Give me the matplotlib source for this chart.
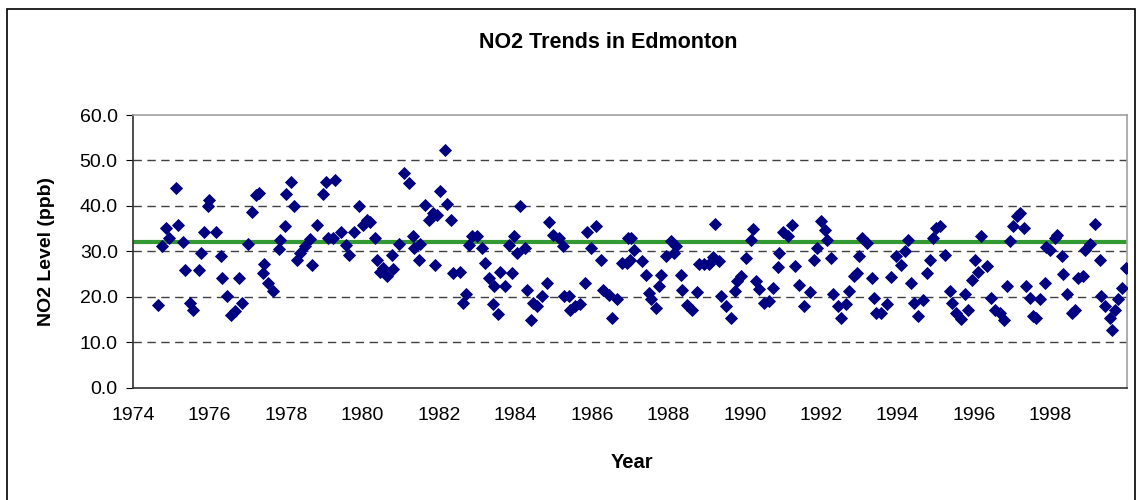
import matplotlib
matplotlib.use('Agg')
import matplotlib.pyplot as plt
from matplotlib.patches import Rectangle

plt.rcParams['font.family'] = ['Liberation Sans', 'DejaVu Sans']

# 数据：年份（小数）和 NO2 浓度 (ppb)
years = [
    1974.65, 1974.77, 1974.87, 1974.94, 1975.13, 1975.18, 1975.31, 1975.35, 1975.48, 1975.57,
    1975.72, 1975.77, 1975.86, 1975.96, 1975.99, 1976.16, 1976.29, 1976.34, 1976.46, 1976.57,
    1976.66, 1976.77, 1976.86, 1977.01, 1977.12, 1977.23, 1977.30, 1977.39, 1977.42, 1977.53,
    1977.66, 1977.81, 1977.84, 1977.97, 1978.01, 1978.13, 1978.22, 1978.28, 1978.36, 1978.49,
    1978.62, 1978.69, 1978.80, 1978.96, 1979.04, 1979.10, 1979.24, 1979.28, 1979.45, 1979.58,
    1979.65, 1979.79, 1979.91, 1980.02, 1980.11, 1980.20, 1980.33, 1980.37, 1980.47, 1980.55,
    1980.64, 1980.77, 1980.81, 1980.95, 1981.08, 1981.21, 1981.32, 1981.34, 1981.47, 1981.51,
    1981.64, 1981.73, 1981.86, 1981.89, 1981.95, 1982.04, 1982.15, 1982.21, 1982.32, 1982.37,
    1982.56, 1982.63, 1982.72, 1982.78, 1982.87, 1983.00, 1983.13, 1983.21, 1983.30, 1983.41,
    1983.43, 1983.56, 1983.61, 1983.74, 1983.83, 1983.91, 1983.97, 1984.04, 1984.13, 1984.26,
    1984.31, 1984.41, 1984.46, 1984.57, 1984.70, 1984.83, 1984.89, 1984.99, 1985.13, 1985.25,
    1985.28, 1985.40, 1985.44, 1985.57, 1985.70, 1985.81, 1985.88, 1985.98, 1986.12, 1986.23,
    1986.30, 1986.44, 1986.53, 1986.66, 1986.79, 1986.92, 1986.94, 1987.00, 1987.03, 1987.10,
    1987.32, 1987.41, 1987.50, 1987.54, 1987.67, 1987.76, 1987.80, 1987.93, 1988.06, 1988.15,
    1988.20, 1988.33, 1988.37, 1988.50, 1988.63, 1988.76, 1988.81, 1988.94, 1989.07, 1989.16,
    1989.22, 1989.33, 1989.37, 1989.50, 1989.63, 1989.74, 1989.81, 1989.90, 1990.03, 1990.16,
    1990.23, 1990.29, 1990.37, 1990.51, 1990.64, 1990.74, 1990.86, 1990.90, 1990.99, 1991.12,
    1991.25, 1991.32, 1991.42, 1991.55, 1991.71, 1991.82, 1991.89, 1991.99, 1992.10, 1992.15,
    1992.25, 1992.32, 1992.43, 1992.51, 1992.65, 1992.73, 1992.86, 1992.95, 1992.99, 1993.08,
    1993.21, 1993.34, 1993.39, 1993.43, 1993.57, 1993.71, 1993.84, 1993.97, 1994.10, 1994.19,
    1994.26, 1994.36, 1994.43, 1994.53, 1994.67, 1994.78, 1994.84, 1994.93, 1995.01, 1995.10,
    1995.23, 1995.36, 1995.42, 1995.54, 1995.65, 1995.76, 1995.84, 1995.95, 1996.02, 1996.09,
    1996.19, 1996.35, 1996.45, 1996.54, 1996.67, 1996.79, 1996.87, 1996.93, 1997.02, 1997.11,
    1997.20, 1997.31, 1997.35, 1997.46, 1997.55, 1997.63, 1997.72, 1997.85, 1997.89, 1997.99,
    1998.11, 1998.18, 1998.29, 1998.33, 1998.44, 1998.55, 1998.64, 1998.72, 1998.85, 1998.91,
    1999.03, 1999.16, 1999.29, 1999.33, 1999.42, 1999.55, 1999.60, 1999.68, 1999.77, 1999.86,
    1999.97,
]
no2 = [
    18.2, 31.1, 35.1, 32.9, 43.9, 35.8, 32.0, 25.8, 18.6, 17.1,
    25.8, 29.7, 34.2, 39.9, 41.3, 34.2, 28.9, 24.1, 20.2, 16.0,
    16.8, 24.1, 18.6, 31.7, 38.6, 42.4, 42.9, 25.3, 27.3, 23.1,
    21.2, 30.5, 32.5, 35.5, 42.6, 45.2, 39.9, 28.1, 29.6, 31.1,
    32.7, 27.0, 35.8, 42.6, 45.2, 32.9, 32.9, 45.6, 34.2, 31.4,
    29.2, 34.2, 39.9, 35.8, 37.0, 36.5, 32.9, 28.1, 25.4, 26.4,
    24.6, 29.2, 26.1, 31.7, 47.2, 45.0, 33.3, 30.7, 28.1, 31.7,
    40.3, 36.9, 38.4, 27.0, 38.0, 43.2, 52.2, 40.5, 36.9, 25.2,
    25.5, 18.6, 20.6, 31.4, 33.3, 33.3, 30.7, 27.5, 24.1, 18.5,
    22.3, 16.2, 25.5, 22.3, 31.4, 25.2, 33.3, 29.7, 39.9, 30.7,
    21.4, 14.9, 18.6, 17.9, 20.1, 23.1, 36.5, 33.6, 32.9, 31.1,
    20.2, 20.2, 17.1, 17.9, 18.5, 23.1, 34.2, 30.7, 35.6, 28.1,
    21.5, 20.4, 15.3, 19.5, 27.5, 27.5, 32.9, 28.1, 32.9, 30.3,
    27.9, 24.8, 20.8, 19.5, 17.5, 22.3, 24.8, 28.9, 32.2, 29.6,
    31.1, 24.8, 21.5, 18.2, 17.0, 21.0, 27.3, 27.3, 27.3, 28.7,
    36.1, 27.9, 20.2, 17.9, 15.3, 21.2, 23.4, 24.5, 28.5, 32.5,
    34.9, 23.4, 21.7, 18.6, 19.0, 21.9, 26.6, 29.7, 34.3, 33.3,
    35.8, 26.8, 22.6, 17.9, 21.0, 28.1, 30.7, 36.6, 34.7, 32.5,
    28.5, 20.6, 18.0, 15.3, 18.5, 21.2, 24.5, 25.2, 28.9, 32.9,
    31.8, 24.1, 19.7, 16.5, 16.5, 18.4, 24.3, 28.9, 27.1, 30.0,
    32.5, 23.1, 18.6, 15.8, 19.2, 25.3, 28.1, 32.9, 35.1, 35.6,
    29.2, 21.2, 18.6, 16.4, 15.1, 20.6, 17.1, 23.7, 28.1, 25.5,
    33.3, 26.8, 19.7, 17.1, 16.4, 14.8, 22.3, 32.2, 35.6, 37.7,
    38.4, 35.1, 22.3, 19.7, 15.7, 15.3, 19.5, 23.1, 30.9, 30.3,
    32.9, 33.5, 28.9, 25.0, 20.6, 16.5, 17.0, 24.1, 24.6, 30.3,
    31.7, 36.1, 28.1, 20.2, 17.9, 15.3, 12.6, 17.1, 19.5, 21.9,
    26.3,
]
average = 32.0
year_ticks = list(range(1974, 2000, 2))
level_ticks = [0, 10, 20, 30, 40, 50, 60]

fig = plt.figure(figsize=(11.41, 5.0), dpi=100)
ax = fig.add_axes([133 / 1141, 1 - 387.7 / 500, (1127 - 133) / 1141, (387.7 - 115) / 500])

# 外框
fig.patches.append(Rectangle((7 / 1141, -0.05), (1135 - 7) / 1141, 1.05 - 9 / 500,
                             transform=fig.transFigure, fill=False,
                             edgecolor='black', linewidth=1.2))

# 网格线（虚线）
for v in level_ticks[1:-1]:
    ax.axhline(v, color='#404040', linestyle=(0, (6, 4)), linewidth=1.0, zorder=1)

ax.plot(years, no2, linestyle='none', marker='D', markersize=6.2,
        color='#000080', markeredgecolor='#000080', markeredgewidth=0.6, zorder=3)
ax.axhline(average, color='#339933', linewidth=3.0, zorder=2)

ax.set_xlim(1974, 2000)
ax.set_ylim(0, 60)
ax.set_xticks(year_ticks)
ax.set_xticklabels([str(y) for y in year_ticks], fontsize=14)
ax.set_yticks(level_ticks)
ax.set_yticklabels([f'{v:.1f}' for v in level_ticks], fontsize=14)
ax.tick_params(axis='x', length=0, pad=14)
ax.tick_params(axis='y', length=5, direction='out', pad=6)

for side in ['top', 'right']:
    ax.spines[side].set_color('#a0a0a0')
    ax.spines[side].set_linewidth(1.2)
for side in ['left', 'bottom']:
    ax.spines[side].set_color('#303030')
    ax.spines[side].set_linewidth(1.2)

# 标题和坐标轴标签
fig.text(608 / 1141, 1 - 42 / 500, 'NO2 Trends in Edmonton', ha='center', va='center',
         fontsize=15.5, fontweight='bold')
fig.text(632 / 1141, 1 - 462 / 500, 'Year', ha='center', va='center',
         fontsize=14.5, fontweight='bold')
fig.text(47 / 1141, 1 - 251 / 500, 'NO2 Level (ppb)', ha='center', va='center',
         rotation=90, fontsize=14, fontweight='bold')

fig.savefig('out.png', dpi=100)
